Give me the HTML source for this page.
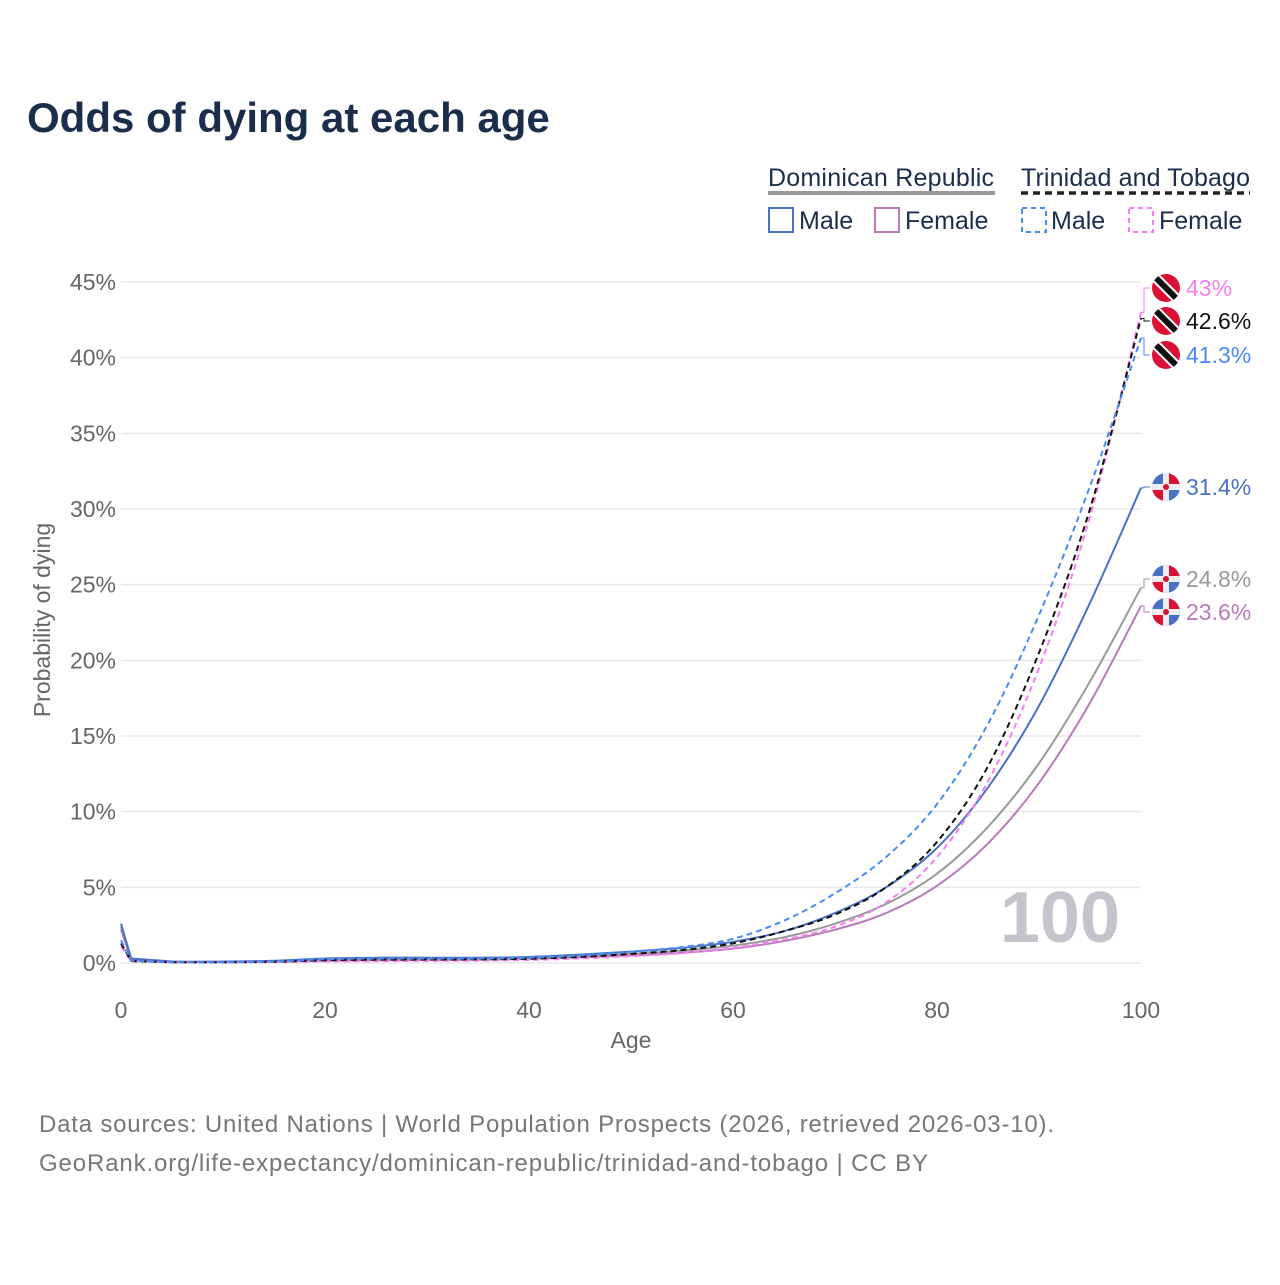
<!DOCTYPE html>
<html><head><meta charset="utf-8"><style>
body{margin:0;background:#fff;font-family:"Liberation Sans",sans-serif}
</style></head><body>
<svg id="chart" width="1280" height="1280" viewBox="0 0 1280 1280" xmlns="http://www.w3.org/2000/svg" font-family="Liberation Sans, sans-serif">
<text x="27" y="132" font-size="42" font-weight="bold" fill="#1a2e4c">Odds of dying at each age</text>
<g font-size="25" fill="#1a2e4c">
<text x="768" y="186" textLength="226">Dominican Republic</text>
<line x1="768" y1="193" x2="995" y2="193" stroke="#999" stroke-width="4"/>
<text x="1021" y="186" textLength="229">Trinidad and Tobago</text>
<line x1="1021" y1="193" x2="1250" y2="193" stroke="#222" stroke-width="3.5" stroke-dasharray="7,5"/>
<rect x="769" y="208" width="24" height="24" fill="none" stroke="#4a72c4" stroke-width="2"/>
<text x="799" y="229">Male</text>
<rect x="875" y="208" width="24" height="24" fill="none" stroke="#b87ab8" stroke-width="2"/>
<text x="905" y="229">Female</text>
<rect x="1022" y="208" width="24" height="24" fill="none" stroke="#4a8af4" stroke-width="2" stroke-dasharray="5,4"/>
<text x="1051" y="229">Male</text>
<rect x="1129" y="208" width="24" height="24" fill="none" stroke="#f57ff0" stroke-width="2" stroke-dasharray="5,4"/>
<text x="1159" y="229">Female</text>
</g>
<g id="grid"></g>
<text x="1120" y="942" text-anchor="end" font-size="72" font-weight="bold" fill="#c4c4cc">100</text>
<g id="series"></g>
<g id="labels"></g>
<text transform="translate(50,620) rotate(-90)" text-anchor="middle" font-size="23" fill="#666">Probability of dying</text>
<text x="631" y="1048" text-anchor="middle" font-size="23" fill="#666">Age</text>
<text x="39" y="1132" font-size="24" fill="#777" textLength="1015">Data sources: United Nations | World Population Prospects (2026, retrieved 2026-03-10).</text>
<text x="39" y="1171" font-size="24" fill="#777" textLength="889">GeoRank.org/life-expectancy/dominican-republic/trinidad-and-tobago | CC BY</text>
</svg>
<script>
const ages=[0,1,5,10,15,20,25,30,35,40,45,50,55,60,65,70,75,80,85,90,95,100];
const drMale=[2.6,0.3,0.1,0.1,0.15,0.3,0.35,0.35,0.35,0.4,0.55,0.75,1.0,1.4,2.1,3.3,5.0,7.6,11.6,17.0,23.8,31.4];
const drFemale=[2.2,0.25,0.08,0.07,0.1,0.15,0.18,0.2,0.22,0.28,0.38,0.5,0.68,0.95,1.45,2.2,3.3,5.1,7.9,11.9,17.2,23.6];
const drTotal=[2.4,0.28,0.09,0.08,0.12,0.22,0.27,0.28,0.29,0.34,0.46,0.6,0.82,1.15,1.7,2.6,3.9,5.9,9.0,13.2,18.6,24.8];
const ttMale=[1.5,0.15,0.05,0.05,0.1,0.25,0.3,0.3,0.3,0.35,0.5,0.75,1.05,1.6,2.8,4.6,7.0,10.5,15.8,23.0,31.5,41.3];
const ttFemale=[1.1,0.12,0.04,0.04,0.06,0.1,0.12,0.14,0.16,0.2,0.3,0.45,0.65,1.0,1.55,2.4,4.0,7.0,12.0,19.5,29.5,43];
const ttTotal=[1.3,0.13,0.05,0.05,0.08,0.18,0.22,0.23,0.24,0.28,0.4,0.6,0.85,1.3,2.1,3.2,5.0,8.0,13.0,20.5,30.0,42.6];
const yTicks=[0,5,10,15,20,25,30,35,40,45];
const xTicks=[0,20,40,60,80,100];
const NS="http://www.w3.org/2000/svg";
const X=a=>121+a*10.2;
const Y=v=>963-v*(681/45);
function mk(t,attrs,parent){const e=document.createElementNS(NS,t);for(const k in attrs)e.setAttribute(k,attrs[k]);parent.appendChild(e);return e;}
const grid=document.getElementById('grid');
yTicks.forEach(t=>{
  const l=mk('line',{x1:121,x2:1141,y1:Y(t),y2:Y(t),stroke:'#e8e8e8','stroke-width':1.5},grid);
  
  
  const tx=mk('text',{x:116,y:Y(t)+8,'text-anchor':'end','font-size':23,fill:'#666'},grid);
  tx.textContent=t+'%';
  
  
});
xTicks.forEach(t=>{
  const tx=mk('text',{x:X(t),y:1018,'text-anchor':'middle','font-size':23,fill:'#666'},grid);
  tx.textContent=t;
  
  
});
const series=[
 {name:'dr-total',v:drTotal,c:'#999',d:''},
 {name:'dr-female',v:drFemale,c:'#b87ab8',d:''},
 {name:'dr-male',v:drMale,c:'#4a72c4',d:''},
 {name:'tt-female',v:ttFemale,c:'#f57ff0',d:'6,4'},
 {name:'tt-total',v:ttTotal,c:'#111',d:'6,4'},
 {name:'tt-male',v:ttMale,c:'#4a8af4',d:'6,4'}
];
const sg=document.getElementById('series');
series.forEach(s=>{
  const pts=ages.map((a,i)=>[X(a),Y(s.v[i])]);
  let d='M'+pts[0][0]+','+pts[0][1];
  for(let i=1;i<pts.length;i++){
    const p0=pts[Math.max(0,i-2)],p1=pts[i-1],p2=pts[i],p3=pts[Math.min(pts.length-1,i+1)];
    const k=(i<=2)?0:1/6;
    d+=` C${p1[0]+(p2[0]-p0[0])*k},${p1[1]+(p2[1]-p0[1])*k} ${p2[0]-(p3[0]-p1[0])*k},${p2[1]-(p3[1]-p1[1])*k} ${p2[0]},${p2[1]}`;
  }
  const p=mk('path',{d:d,fill:'none',stroke:s.c,'stroke-width':2,'stroke-dasharray':s.d},sg);
  
  
});
const lg=document.getElementById('labels');
const labels=[
 {v:ttFemale,ly:288,c:'#f57ff0',f:'tt',n:'tt-female'},
 {v:ttTotal,ly:321,c:'#111',f:'tt',n:'tt-total'},
 {v:ttMale,ly:355,c:'#4a8af4',f:'tt',n:'tt-male'},
 {v:drMale,ly:487,c:'#4a72c4',f:'dr',n:'dr-male'},
 {v:drTotal,ly:579,c:'#999',f:'dr',n:'dr-total'},
 {v:drFemale,ly:612,c:'#b87ab8',f:'dr',n:'dr-female'}
];
labels.forEach((L,i)=>{
  const val=L.v[L.v.length-1];
  const ey=Y(val);
  const pl=mk('polyline',{points:`1141,${ey} 1144,${ey} 1144,${L.ly} 1150,${L.ly}`,fill:'none',stroke:L.c,'stroke-width':1},lg);
  
  
  const g=mk('g',{transform:`translate(1166,${L.ly})`},lg);
  
  
  const cid='c'+i;
  const cp=mk('clipPath',{id:cid},g);mk('circle',{r:14},cp);
  const inner=mk('g',{'clip-path':`url(#${cid})`},g);
  if(L.f==='tt'){
    mk('rect',{x:-15,y:-15,width:30,height:30,fill:'#da1035'},inner);
    mk('line',{x1:-14,y1:-14,x2:14,y2:14,stroke:'#fff',"stroke-width":10},inner);
    mk('line',{x1:-14,y1:-14,x2:14,y2:14,stroke:'#111',"stroke-width":6},inner);
  }else{
    mk('rect',{x:-15,y:-15,width:15,height:15,fill:'#4a72c4'},inner);
    mk('rect',{x:0,y:-15,width:15,height:15,fill:'#da1035'},inner);
    mk('rect',{x:-15,y:0,width:15,height:15,fill:'#da1035'},inner);
    mk('rect',{x:0,y:0,width:15,height:15,fill:'#4a72c4'},inner);
    mk('rect',{x:-15,y:-3,width:30,height:6,fill:'#eee'},inner);
    mk('rect',{x:-3,y:-15,width:6,height:30,fill:'#eee'},inner);
    mk('circle',{r:3,fill:'#da1035'},inner);
  }
  const t=mk('text',{x:1186,y:L.ly+8,'font-size':23,fill:L.c},lg);
  t.textContent=val+'%';
  
  
});
</script>
</body></html>
